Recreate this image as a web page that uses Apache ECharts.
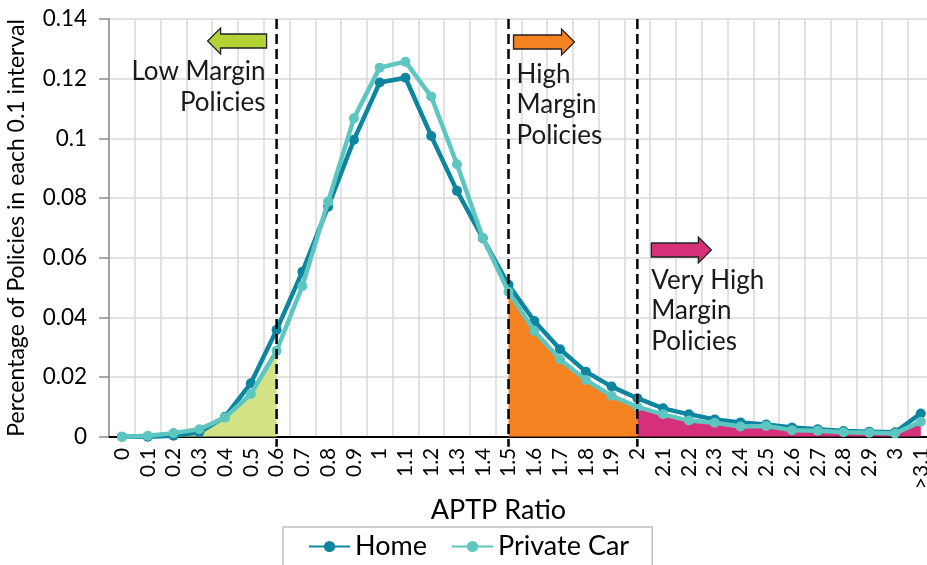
<!DOCTYPE html>
<html>
<head>
<meta charset="utf-8">
<script src="https://cdn.jsdelivr.net/npm/echarts@6/dist/echarts.min.js"></script>
<style>
html,body{margin:0;padding:0;background:#fff;}
#c{width:927px;height:565px;}
</style>
</head>
<body>
<div id="c"></div>
<script>
const categories = ['0','0.1','0.2','0.3','0.4','0.5','0.6','0.7','0.8','0.9','1','1.1','1.2','1.3','1.4','1.5','1.6','1.7','1.8','1.9','2','2.1','2.2','2.3','2.4','2.5','2.6','2.7','2.8','2.9','3','>3.1'];
const homeValues = [0,0,0.0003,0.0015,0.0067,0.0179,0.0358,0.0553,0.0771,0.0995,0.1187,0.1203,0.1008,0.0824,0.0665,0.0509,0.0388,0.0293,0.0218,0.0168,0.0129,0.0095,0.0075,0.0058,0.0048,0.0041,0.0031,0.0025,0.0019,0.0017,0.0015,0.0078];
const carValues = [0,0.0003,0.0012,0.0025,0.0064,0.0143,0.0288,0.0505,0.0788,0.1067,0.1237,0.1257,0.114,0.0913,0.0667,0.0486,0.0354,0.0259,0.019,0.0137,0.0100,0.0075,0.0054,0.0047,0.0034,0.0036,0.0022,0.002,0.0015,0.0013,0.0011,0.005];
const yTicks = {min:0, max:0.14, interval:0.02};
const seriesNames = ['Home','Private Car'];
const lowCut = '0.6', highCut = '1.5', veryHighCut = '2';

function band(values, fromCat, toCat){
  const a = categories.indexOf(fromCat), b = categories.indexOf(toCat);
  return values.map((v,i)=> (i>=a && i<=b) ? v : null);
}

const FONT = 'Lato';
const chart = echarts.init(document.getElementById('c'), null, {renderer:'canvas'});
const option = {
  animation:false,
  textStyle:{fontFamily:FONT, color:'#000'},
  grid:{left:109.1, top:19, width:824.6, height:417.7, containLabel:false, outerBoundsMode:'none'},
  legend:{
    data:seriesNames,
    left:283, top:527,
    padding:[6,23,12,25],
    itemWidth:41, itemHeight:14, itemGap:24,
    borderColor:'#BFBFBF', borderWidth:1.5,
    textStyle:{fontSize:27, fontFamily:FONT, color:'#000'}
  },
  xAxis:{
    type:'category', data:categories, boundaryGap:true,
    name:'APTP Ratio', nameLocation:'middle', nameGap:60, nameMoveOverlap:false,
    nameTextStyle:{fontSize:27, fontFamily:FONT, color:'#000', padding:[0,46,0,0]},
    axisLine:{lineStyle:{color:'#000', width:2}},
    axisTick:{show:false},
    axisLabel:{rotate:90, fontSize:21, margin:11, color:'#000', interval:0, fontFamily:FONT, hideOverlap:false},
    splitLine:{show:true, interval:0, lineStyle:{color:'#D9D9D9', width:1.5}}
  },
  yAxis:{
    type:'value', min:yTicks.min, max:yTicks.max, interval:yTicks.interval,
    name:'Percentage of Policies in each 0.1 interval', nameLocation:'middle', nameGap:81, nameMoveOverlap:false,
    nameTextStyle:{fontSize:23, fontFamily:FONT, color:'#000'},
    axisLine:{show:true, lineStyle:{color:'#8C8C8C', width:1.5}},
    axisTick:{show:true, length:10, lineStyle:{color:'#8C8C8C', width:1.5}},
    axisLabel:{fontSize:22.5, margin:22, color:'#000', fontFamily:FONT,
      formatter:v=> String(+v.toFixed(2))},
    splitLine:{show:true, lineStyle:{color:'#D9D9D9', width:1.5}}
  },
  series:[
    {type:'line', name:'lowArea', data:band(carValues,'0',lowCut), showSymbol:false, symbol:'none', silent:true,
     lineStyle:{width:0}, areaStyle:{color:'#D4E286', opacity:1}, z:1},
    {type:'line', name:'highArea', data:band(carValues,highCut,veryHighCut), showSymbol:false, symbol:'none', silent:true,
     lineStyle:{width:0}, areaStyle:{color:'#F58220', opacity:1}, z:1},
    {type:'line', name:'veryHighArea', data:band(carValues,veryHighCut,'>3.1'), showSymbol:false, symbol:'none', silent:true,
     lineStyle:{width:0}, areaStyle:{color:'#D6307B', opacity:1}, z:1},
    {type:'line', name:'Home', data:homeValues, symbol:'circle', symbolSize:10,
     itemStyle:{color:'#0E859F'}, lineStyle:{color:'#0E859F', width:4.5}, z:3},
    {type:'line', name:'Private Car', data:carValues, symbol:'circle', symbolSize:10,
     itemStyle:{color:'#5EC6C1'}, lineStyle:{color:'#5EC6C1', width:4.5}, z:4}
  ]
};
chart.setOption(option);

// annotations positioned from the axes
const px = c => chart.convertToPixel({xAxisIndex:0}, c);
const py = v => chart.convertToPixel({yAxisIndex:0}, v);
const yTop = py(yTicks.max), yBot = py(0) + 10;
const xs = [px(lowCut), px(highCut), px(veryHighCut)];
const graphics = [];
xs.forEach(x=>{
  graphics.push({type:'line', shape:{x1:x, y1:yTop, x2:x, y2:yBot}, z:50,
    style:{stroke:'#000', lineWidth:2.5, lineDash:[10,5]}});
});
function arrow(x0, x1, yc, dir, fill){
  const bh = 7, hh = 13, hl = 13*dir;
  const pts = [[x0,yc-bh],[x1-hl,yc-bh],[x1-hl,yc-hh],[x1,yc],[x1-hl,yc+hh],[x1-hl,yc+bh],[x0,yc+bh]];
  return {type:'polygon', shape:{points:pts}, z:60, style:{fill:fill, stroke:'#222', lineWidth:1.3}};
}
graphics.push(arrow(xs[0]-10, xs[0]-69, 41, -1, '#B2D235'));
graphics.push(arrow(xs[1]+5, xs[1]+66, 42, 1, '#F58220'));
graphics.push(arrow(xs[2]+14, xs[2]+74, 250, 1, '#D6307B'));
const tStyle = {fontSize:26, fontFamily:FONT, fill:'#1a1a1a', lineHeight:30.5};
graphics.push({type:'text', z:60, x:xs[0]-11, y:87, style:Object.assign({text:'Low Margin\nPolicies', align:'right', verticalAlign:'middle'}, tStyle)});
graphics.push({type:'text', z:60, x:xs[1]+8, y:105, style:Object.assign({text:'High\nMargin\nPolicies', align:'left', verticalAlign:'middle'}, tStyle)});
graphics.push({type:'text', z:60, x:xs[2]+14, y:311, style:Object.assign({text:'Very High\nMargin\nPolicies', align:'left', verticalAlign:'middle'}, tStyle)});
chart.setOption({graphic:graphics});
</script>
</body>
</html>
